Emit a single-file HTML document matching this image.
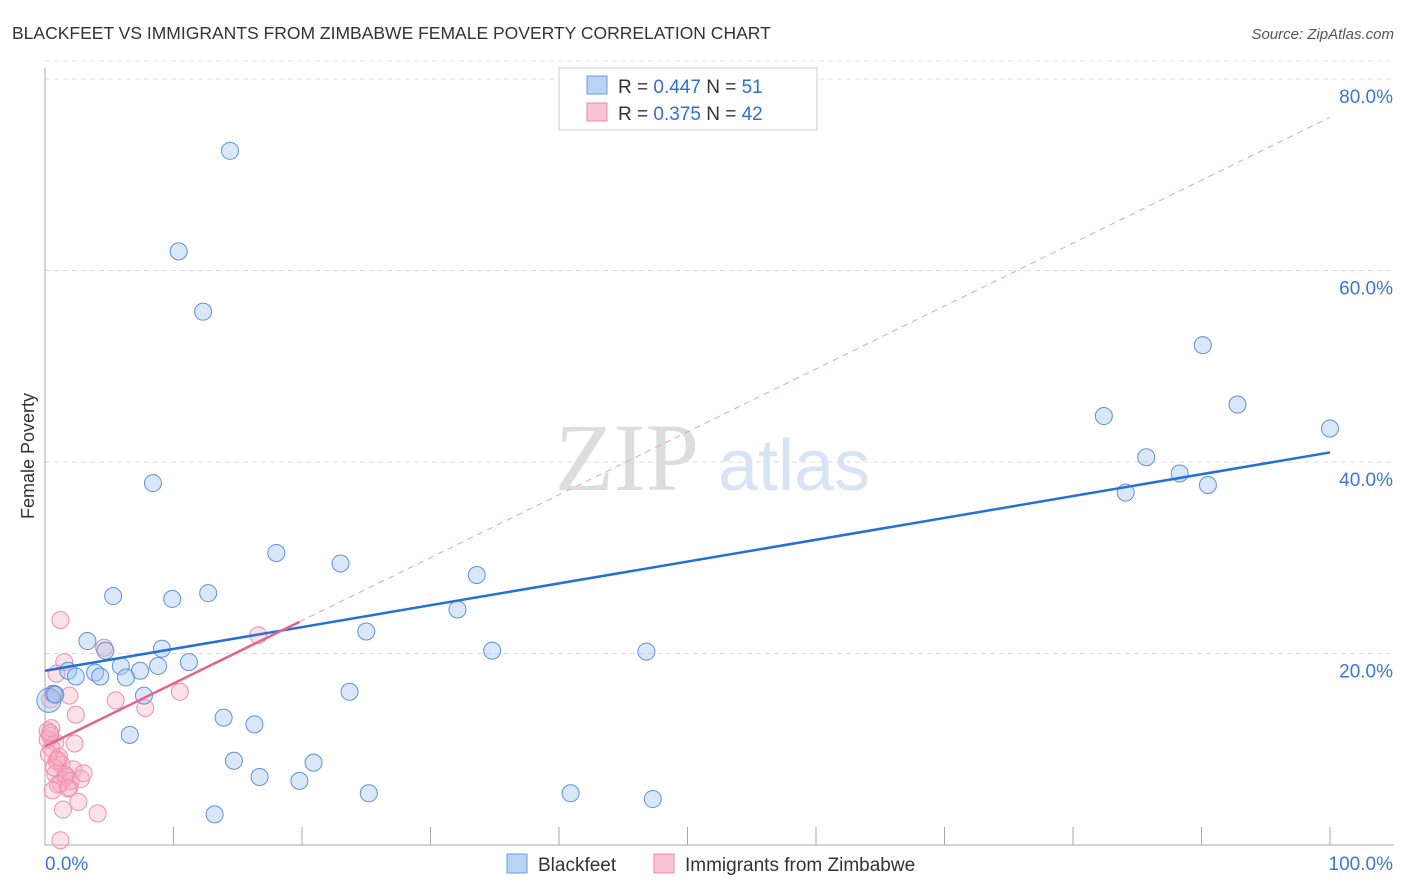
<!DOCTYPE html>
<html><head><meta charset="utf-8"><style>
body{margin:0;background:#fff;font-family:"Liberation Sans",sans-serif}
svg{display:block}
</style></head><body>
<svg id="chart" width="1406" height="892" xmlns="http://www.w3.org/2000/svg">
<text x="12" y="39" font-size="17.5" fill="#333">BLACKFEET VS IMMIGRANTS FROM ZIMBABWE FEMALE POVERTY CORRELATION CHART</text>
<text x="1394" y="39" font-size="15" fill="#555" font-style="italic" text-anchor="end">Source: ZipAtlas.com</text>
<text x="34" y="456" font-size="18" fill="#333" transform="rotate(-90 34 456)" text-anchor="middle">Female Poverty</text>
<text x="555" y="490" font-size="96" fill="#ddd" font-family="Liberation Serif">ZIP</text>
<text x="718" y="490" font-size="72" fill="#d6e4f5">atlas</text>
<g id="grid"></g><g id="axes"></g><g id="trend"></g><g id="pts"></g>
<g>
<rect x="559" y="68" width="258" height="62" fill="#fff" stroke="#ccc"/>
<rect x="587" y="76" width="20" height="18" fill="#b8d3f3" stroke="#6a9be0"/>
<text x="618" y="93" font-size="19" fill="#333">R = <tspan fill="#2f6fd0">0.447</tspan>   N = <tspan fill="#2f6fd0">51</tspan></text>
<rect x="587" y="103" width="20" height="18" fill="#f9c5d3" stroke="#e98aa5"/>
<text x="618" y="120" font-size="19" fill="#333">R = <tspan fill="#2f6fd0">0.375</tspan>   N = <tspan fill="#2f6fd0">42</tspan></text>
</g>
<g>
<rect x="507" y="854" width="20" height="19" fill="#b8d3f3" stroke="#6a9be0"/>
<text x="538" y="871" font-size="19" fill="#333">Blackfeet</text>
<rect x="654" y="854" width="20" height="19" fill="#f9c5d3" stroke="#e98aa5"/>
<text x="685" y="871" font-size="19" fill="#333">Immigrants from Zimbabwe</text>
</g>
</svg>
<script>
const yTicks=[20,40,60,80];
const yTickLabels=["20.0%","40.0%","60.0%","80.0%"];
const xTicks=[0,10,20,30,40,50,60,70,80,90,100];
const blueX=[14.4,10.4,12.3,8.4,18.0,23.0,33.6,5.3,9.9,12.7,32.1,25.0,3.3,9.1,4.7,34.8,46.8,11.2,5.9,8.8,7.4,1.8,3.9,2.4,4.3,6.3,0.7,23.7,7.7,13.9,16.3,6.6,14.7,20.9,16.7,19.8,25.2,40.9,47.3,13.2,90.1,92.8,82.4,100,85.7,88.3,84.1,90.5,0.3,0.8];
const blueY=[72.5,62.0,55.7,37.8,30.5,29.4,28.2,26.0,25.7,26.3,24.6,22.3,21.3,20.5,20.3,20.3,20.2,19.1,18.7,18.7,18.2,18.2,18.0,17.6,17.6,17.5,15.8,16.0,15.6,13.3,12.6,11.5,8.8,8.6,7.1,6.7,5.4,5.4,4.8,3.2,52.2,46.0,44.8,43.5,40.5,38.8,36.8,37.6,15.1,15.7];
const pinkX=[1.2,16.6,4.6,1.5,10.5,5.5,0.9,1.9,7.8,2.4,0.6,0.4,0.2,0.4,0.8,0.5,1.0,1.3,2.2,0.8,1.6,1.2,1.9,2.6,1.4,4.1,1.2,0.2,0.5,1.6,0.9,2.0,2.8,0.3,1.0,3.0,0.6,1.8,0.4,0.7,2.3,1.1];
const pinkY=[23.5,21.9,20.6,19.1,16.0,15.1,17.9,15.6,14.3,13.6,15.8,15.2,11.9,11.4,10.7,10.1,8.9,8.4,7.9,7.4,7.1,6.4,6.0,4.5,3.7,3.3,0.5,11.0,12.2,7.3,8.8,6.7,6.9,9.5,6.3,7.5,5.7,5.9,11.7,8.1,10.6,9.2];
const blueTrend=[18.2,41.0];
const pinkTrend=[10.3,76.0];
const X=v=>45+v*12.85, Y=v=>845-v*9.575;
const NS="http://www.w3.org/2000/svg";
function mk(t,a,p){const e=document.createElementNS(NS,t);for(const k in a)e.setAttribute(k,a[k]);document.getElementById(p).appendChild(e);return e;}
yTicks.forEach((t,i)=>{
 const l=mk('line',{x1:45,x2:1394,y1:Y(t),y2:Y(t),stroke:'#ddd','stroke-dasharray':'5,4'},'grid');
 
 
 const tx=mk('text',{x:1393,y:Y(t)+24,'font-size':19,fill:'#3a78d4','text-anchor':'end'},'grid');
 tx.textContent=yTickLabels[i];
 
 
});
mk('line',{x1:45,x2:1394,y1:Y(80)-18,y2:Y(80)-18,stroke:'#e4e4e4','stroke-dasharray':'5,4'},'grid');
mk('line',{x1:45,x2:45,y1:68,y2:845,stroke:'#aaa'},'axes');
mk('line',{x1:45,x2:1394,y1:845,y2:845,stroke:'#aaa'},'axes');
xTicks.forEach(t=>{const l=mk('line',{x1:X(t),x2:X(t),y1:827,y2:845,stroke:'#aaa'},'axes');
 
 });
let a=mk('text',{x:45,y:870,'font-size':19,fill:'#3a78d4'},'axes');a.textContent='0.0%';


a=mk('text',{x:1393,y:870,'font-size':19,fill:'#3a78d4','text-anchor':'end'},'axes');a.textContent='100.0%';


let t=mk('line',{x1:X(19.8),y1:Y(pinkTrend[0]+(pinkTrend[1]-pinkTrend[0])*0.198),x2:X(100),y2:Y(pinkTrend[1]),stroke:'#eaa0b5','stroke-width':1,'stroke-dasharray':'6,5'},'trend');


pinkX.forEach((x,i)=>{const c=mk('circle',{cx:X(x),cy:Y(pinkY[i]),r:8.5,fill:'rgba(247,170,192,0.35)',stroke:'#ec8fab','stroke-width':1},'pts');
 
 });
blueX.forEach((x,i)=>{const c=mk('circle',{cx:X(x),cy:Y(blueY[i]),r:(i==48?12:8.5),fill:'rgba(160,196,240,0.4)',stroke:'#5b93dc','stroke-width':1},'pts');
 
 });
t=mk('line',{x1:X(0),y1:Y(blueTrend[0]),x2:X(100),y2:Y(blueTrend[1]),stroke:'#2570d8','stroke-width':2.5},'pts');


t=mk('line',{x1:X(0),y1:Y(pinkTrend[0]),x2:X(19.8),y2:Y(pinkTrend[0]+(pinkTrend[1]-pinkTrend[0])*0.198),stroke:'#e8628a','stroke-width':2.5},'pts');


</script>
</body></html>
